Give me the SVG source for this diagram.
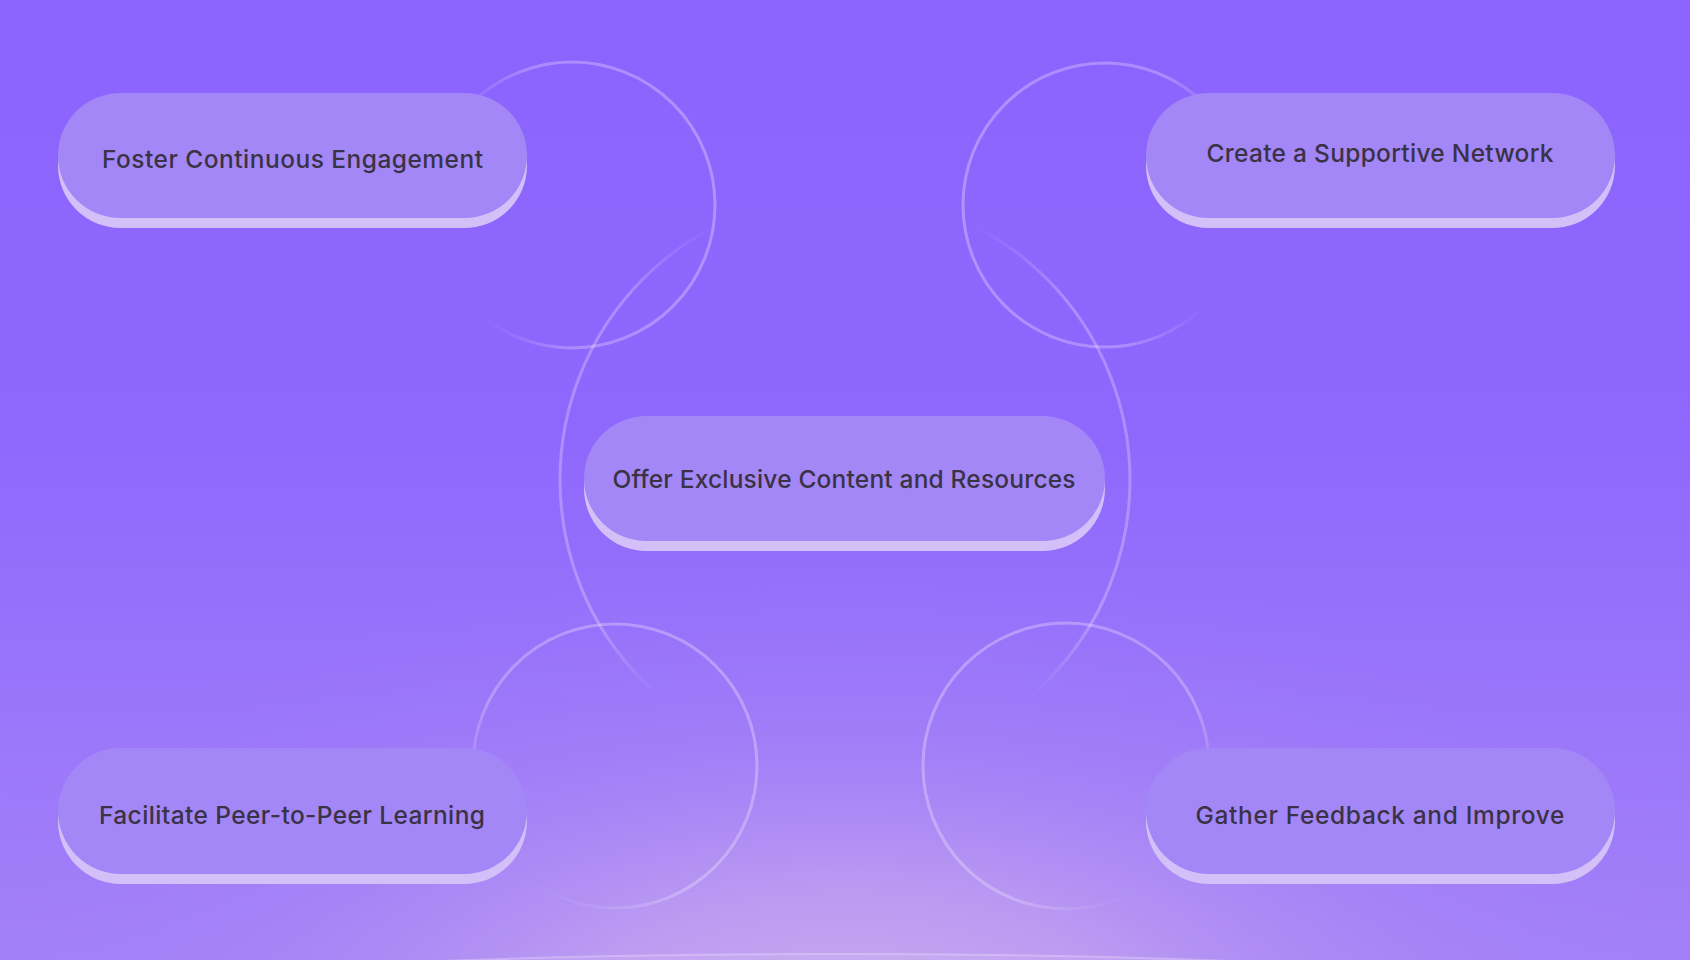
<svg xmlns="http://www.w3.org/2000/svg" width="1690" height="960" viewBox="0 0 1690 960">
  <style>
    .ring { fill: none; stroke-width: 3; }
    .face { fill: #a387f7; }
    .shade { fill: #d3c0f8; }
    .label { font-family: Inter, "Open Sans", "Liberation Sans", sans-serif; font-size: 24.5px; font-weight: 500; fill: #3a3245; text-anchor: middle; }
  </style>
  <defs>
    <linearGradient id="bg" x1="0" y1="0" x2="0" y2="1">
      <stop offset="0" stop-color="#8b64fe"/>
      <stop offset="0.45" stop-color="#8e68fd"/>
      <stop offset="0.75" stop-color="#9a76fa"/>
      <stop offset="1" stop-color="#a382f7"/>
    </linearGradient>
    <radialGradient id="glow" cx="845" cy="1040" r="980" gradientUnits="userSpaceOnUse" gradientTransform="translate(845 1040) scale(1 0.5) translate(-845 -1040)">
      <stop offset="0" stop-color="#d0b0ef" stop-opacity="0.95"/>
      <stop offset="0.3" stop-color="#c3a1f0" stop-opacity="0.8"/>
      <stop offset="0.62" stop-color="#ab88f5" stop-opacity="0.4"/>
      <stop offset="1" stop-color="#9a74fa" stop-opacity="0"/>
    </radialGradient>
    <linearGradient id="fadeA" x1="1" y1="0" x2="0" y2="0.15">
      <stop offset="0" stop-color="#ffffff" stop-opacity="0.3"/>
      <stop offset="0.62" stop-color="#ffffff" stop-opacity="0.26"/>
      <stop offset="0.92" stop-color="#ffffff" stop-opacity="0"/>
    </linearGradient>
    <linearGradient id="fadeB" x1="0" y1="0" x2="1" y2="0.15">
      <stop offset="0" stop-color="#ffffff" stop-opacity="0.3"/>
      <stop offset="0.7" stop-color="#ffffff" stop-opacity="0.26"/>
      <stop offset="0.96" stop-color="#ffffff" stop-opacity="0"/>
    </linearGradient>
    <linearGradient id="fadeC" x1="1" y1="0" x2="0" y2="1">
      <stop offset="0" stop-color="#ffffff" stop-opacity="0.3"/>
      <stop offset="0.6" stop-color="#ffffff" stop-opacity="0.26"/>
      <stop offset="0.86" stop-color="#ffffff" stop-opacity="0"/>
    </linearGradient>
    <linearGradient id="fadeD" x1="0" y1="0" x2="1" y2="1">
      <stop offset="0" stop-color="#ffffff" stop-opacity="0.3"/>
      <stop offset="0.62" stop-color="#ffffff" stop-opacity="0.26"/>
      <stop offset="0.84" stop-color="#ffffff" stop-opacity="0"/>
    </linearGradient>
    <linearGradient id="fadeBig" x1="0" y1="195" x2="0" y2="765" gradientUnits="userSpaceOnUse">
      <stop offset="0.05" stop-color="#ffffff" stop-opacity="0"/>
      <stop offset="0.18" stop-color="#ffffff" stop-opacity="0.26"/>
      <stop offset="0.75" stop-color="#ffffff" stop-opacity="0.26"/>
      <stop offset="0.88" stop-color="#ffffff" stop-opacity="0"/>
    </linearGradient>
  </defs>

  <g id="background">
    <rect x="0" y="0" width="1690" height="960" fill="url(#bg)"/>
    <rect x="0" y="0" width="1690" height="960" fill="url(#glow)"/>
    <ellipse cx="835" cy="1010" rx="800" ry="56" fill="#ffffff" fill-opacity="0.08" stroke="#ffffff" stroke-opacity="0.25" stroke-width="2"/>
  </g>

  <g id="connectors">
    <circle class="ring" cx="845" cy="480" r="285" stroke="url(#fadeBig)"/>
    <circle class="ring" cx="572" cy="205" r="143" stroke="url(#fadeA)"/>
    <circle class="ring" cx="1105" cy="205" r="142" stroke="url(#fadeB)"/>
    <circle class="ring" cx="615" cy="766" r="142" stroke="url(#fadeC)"/>
    <circle class="ring" cx="1066" cy="766" r="143" stroke="url(#fadeD)"/>
  </g>

  <g id="node-foster">
    <rect class="shade" x="58" y="103" width="469" height="125" rx="62.5"/>
    <rect class="face" x="58" y="93" width="469" height="125" rx="62.5"/>
    <text class="label" x="292.5" y="168" textLength="381">Foster Continuous Engagement</text>
  </g>

  <g id="node-create">
    <rect class="shade" x="1146" y="103" width="469" height="125" rx="62.5"/>
    <rect class="face" x="1146" y="93" width="469" height="125" rx="62.5"/>
    <text class="label" x="1380" y="162" textLength="347">Create a Supportive Network</text>
  </g>

  <g id="node-offer">
    <rect class="shade" x="584" y="426" width="521" height="125" rx="62.5"/>
    <rect class="face" x="584" y="416" width="521" height="125" rx="62.5"/>
    <text class="label" x="844" y="488" textLength="463">Offer Exclusive Content and Resources</text>
  </g>

  <g id="node-facilitate">
    <rect class="shade" x="58" y="758" width="469" height="126" rx="63"/>
    <rect class="face" x="58" y="748" width="469" height="126" rx="63"/>
    <text class="label" x="292" y="824" textLength="386">Facilitate Peer-to-Peer Learning</text>
  </g>

  <g id="node-gather">
    <rect class="shade" x="1146" y="758" width="469" height="126" rx="63"/>
    <rect class="face" x="1146" y="748" width="469" height="126" rx="63"/>
    <text class="label" x="1380" y="824" textLength="369">Gather Feedback and Improve</text>
  </g>
</svg>
